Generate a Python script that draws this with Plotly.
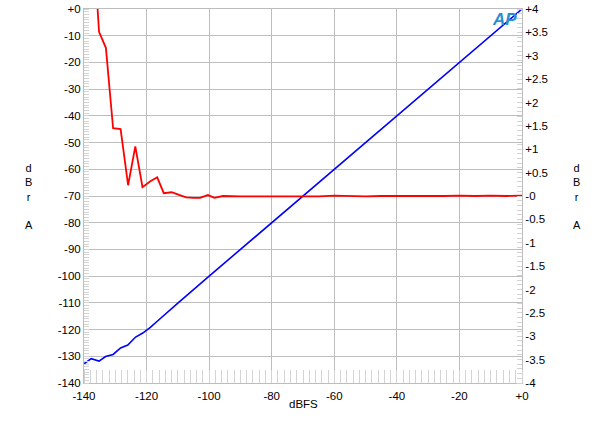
import plotly.graph_objects as go

# Blue trace: output level (left axis, dBr A) vs input (dBFS)
blue_x = [-140, -137.7, -135.2, -133.1, -130.7, -128.3, -126.0, -123.5, -121.2, -118.7,
          -116.5, -114.2, -112.0, -110, -100, -90, -80, -70, -60, -50, -40, -30, -20, -10, 0]
blue_y = [-132.8, -130.9, -131.8, -130.1, -129.3, -126.9, -125.8, -122.8, -121.3, -119.1,
          -116.8, -114.3, -112.1, -110.1, -100.0, -90.0, -80.0, -70.0, -60.0, -50.0, -40.0, -30.0, -20.0, -10.0, 0.0]

# Red trace: linearity error (right axis, dBr A)
red_x = [-137.7, -135.2, -133.0, -130.7, -128.3, -125.9, -123.6, -121.3, -118.9, -116.6,
         -114.5, -112.0, -109.4, -107.3, -105.0, -102.9, -100.4, -98.3, -95.6, -93.0,
         -90, -85, -80, -75, -70, -65, -60, -55, -50, -45, -40, -35, -30, -25, -20, -15, -10, -5, 0]
red_y = [6.2, 3.51, 3.17, 1.45, 1.43, 0.23, 1.06, 0.19, 0.31, 0.40,
         0.06, 0.08, 0.02, -0.03, -0.04, -0.04, 0.02, -0.04, 0.0, -0.01,
         -0.01, -0.01, -0.01, -0.01, 0.0, -0.01, 0.01, 0.0, -0.01, 0.0, 0.0, -0.01, 0.0, 0.0, 0.01, 0.0, 0.01, 0.0, 0.01]

x_ticks = [-140, -120, -100, -80, -60, -40, -20, 0]
x_labels = ["-140", "-120", "-100", "-80", "-60", "-40", "-20", "+0"]
yl_ticks = [0, -10, -20, -30, -40, -50, -60, -70, -80, -90, -100, -110, -120, -130, -140]
yl_labels = ["+0", "-10", "-20", "-30", "-40", "-50", "-60", "-70", "-80", "-90", "-100", "-110", "-120", "-130", "-140"]
yr_ticks = [4, 3.5, 3, 2.5, 2, 1.5, 1, 0.5, 0, -0.5, -1, -1.5, -2, -2.5, -3, -3.5, -4]
yr_labels = ["+4", "+3.5", "+3", "+2.5", "+2", "+1.5", "+1", "+0.5", "-0", "-0.5", "-1", "-1.5", "-2", "-2.5", "-3", "-3.5", "-4"]

FONT = "Liberation Sans, Arial, sans-serif"
GRID = "#bdbdbd"

fig = go.Figure()
fig.add_trace(go.Scatter(x=blue_x, y=blue_y, mode="lines", line=dict(color="#0000ff", width=1.6),
                         yaxis="y", showlegend=False, hoverinfo="skip"))
fig.add_trace(go.Scatter(x=red_x, y=red_y, mode="lines", line=dict(color="#ff0000", width=1.8),
                         yaxis="y2", showlegend=False, hoverinfo="skip"))

fig.update_layout(
    width=600, height=422,
    margin=dict(l=84, r=78, t=9, b=39, autoexpand=False),
    paper_bgcolor="white", plot_bgcolor="white",
    font=dict(family=FONT, size=11.5, color="black"),
    xaxis=dict(range=[-140, 0], tickvals=x_ticks, ticktext=x_labels, automargin=False,
               showgrid=True, gridcolor=GRID, gridwidth=1,
               showline=True, linecolor=GRID, mirror=True, ticks="",
               zeroline=False, ticklabelstandoff=2,
               minor=dict(dtick=2, ticks="inside", ticklen=13, tickcolor="#d4d4d4", showgrid=False)),
    yaxis=dict(range=[-140, 0], tickvals=yl_ticks, ticktext=yl_labels, automargin=False,
               showgrid=True, gridcolor=GRID, gridwidth=1,
               showline=True, linecolor=GRID, ticks="", zeroline=False,
               minor=dict(dtick=1, ticks="inside", ticklen=5, tickcolor="#d4d4d4", showgrid=False)),
    yaxis2=dict(range=[-4, 4], tickvals=yr_ticks, ticktext=yr_labels, overlaying="y", side="right",
                automargin=False, showgrid=False, showline=True, linecolor=GRID, ticks="", zeroline=False,
                minor=dict(dtick=0.1, ticks="inside", ticklen=5, tickcolor="#d4d4d4", showgrid=False)),
    annotations=[
        dict(text="d<br>B<br>r<br><br>A", x=-0.125, y=0.5, xref="paper", yref="paper",
             xanchor="center", yanchor="middle", showarrow=False,
             font=dict(size=11, family=FONT), align="center"),
        dict(text="d<br>B<br>r<br><br>A", x=1.125, y=0.5, xref="paper", yref="paper",
             xanchor="center", yanchor="middle", showarrow=False,
             font=dict(size=11, family=FONT), align="center"),
        dict(text="dBFS", x=0.5, y=0, xref="paper", yref="paper", yshift=-13, yanchor="top",
             showarrow=False, font=dict(size=11.5, family=FONT)),
        dict(text="<b><i>AP</i></b>", x=-5.5, y=-4, xref="x", yref="y", showarrow=False,
             font=dict(size=17, family=FONT, color="#2a8fd0")),
    ],
)

fig.write_html("out.html", config={"displayModeBar": False},
               post_script="document.body.style.margin='0px';")
